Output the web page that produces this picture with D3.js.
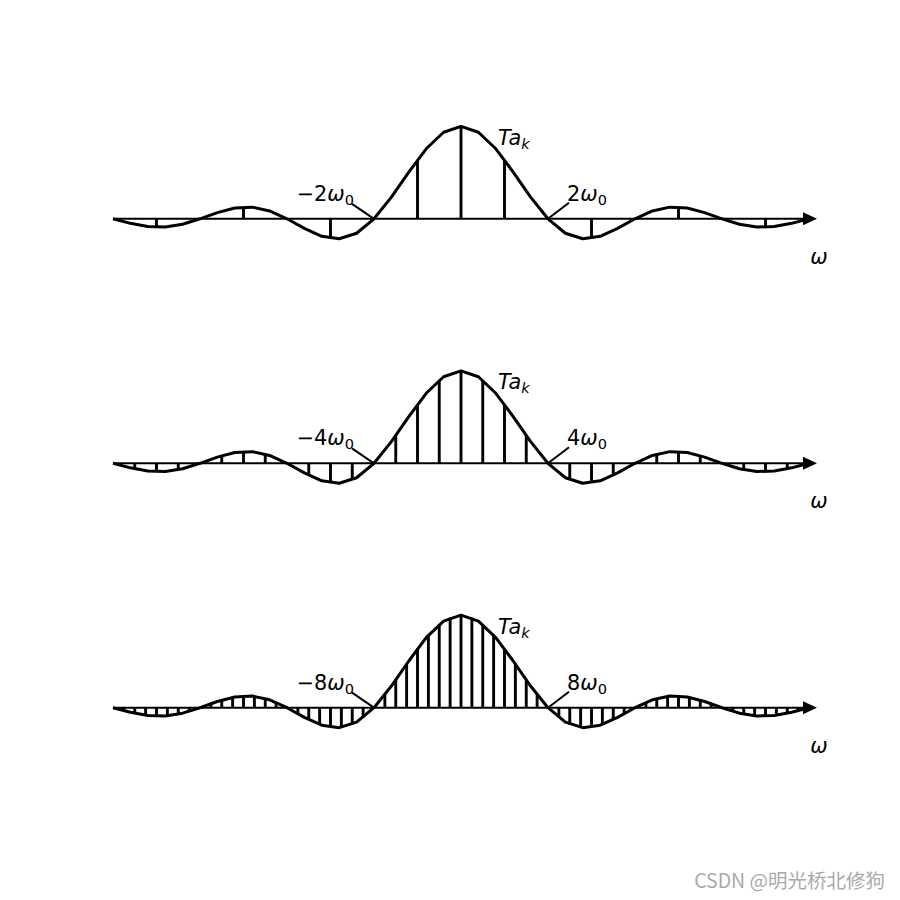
<!DOCTYPE html>
<html>
<head>
<meta charset="utf-8">
<script src="https://d3js.org/d3.v7.min.js"></script>
<style>
  body { margin: 0; background: #fff; }
  svg { display: block; }
</style>
</head>
<body>
<div id="chart"></div>
<script>
// envelope samples: position in units of the first zero crossing, and Ta_k value
var envU = [-4, -3.8, -3.6, -3.4, -3.2, -3, -2.8, -2.6, -2.4, -2.2, -2, -1.8, -1.6, -1.4, -1.2, -1,
            -0.8, -0.6, -0.4, -0.2, 0, 0.2, 0.4, 0.6, 0.8, 1, 1.2, 1.4, 1.6, 1.8, 2, 2.2, 2.4,
            2.6, 2.8, 3, 3.2, 3.4, 3.6, 3.8, 4];
var envV = [0, -0.049, -0.084, -0.089, -0.059, 0, 0.067, 0.116, 0.126, 0.085, 0, -0.104, -0.189,
            -0.216, -0.156, 0, 0.234, 0.505, 0.757, 0.936, 1, 0.936, 0.757, 0.505, 0.234, 0,
            -0.156, -0.216, -0.189, -0.104, 0, 0.085, 0.126, 0.116, 0.067, 0, -0.059, -0.089,
            -0.084, -0.049, 0];

// stem heights, harmonic k = -N..N
var stemsTop = [0, -0.091, 0, 0.127, 0, -0.212, 0, 0.637, 1, 0.637, 0, -0.212, 0, 0.127, 0, -0.091, 0];
var stemsMid = [0, -0.060, -0.091, -0.069, 0, 0.082, 0.127, 0.100, 0, -0.129, -0.212, -0.180, 0,
                0.300, 0.637, 0.900, 1, 0.900, 0.637, 0.300, 0, -0.180, -0.212, -0.129, 0, 0.100,
                0.127, 0.082, 0, -0.069, -0.091, -0.060, 0];
var stemsBot = [0, -0.031, -0.060, -0.081, -0.091, -0.087, -0.069, -0.039, 0, 0.042, 0.082, 0.112,
                0.127, 0.124, 0.100, 0.057, 0, -0.065, -0.129, -0.181, -0.212, -0.214, -0.180,
                -0.108, 0, 0.139, 0.300, 0.471, 0.637, 0.784, 0.900, 0.974, 1, 0.974, 0.900, 0.784,
                0.637, 0.471, 0.300, 0.139, 0, -0.108, -0.180, -0.214, -0.212, -0.181, -0.129,
                -0.065, 0, 0.057, 0.100, 0.124, 0.127, 0.112, 0.082, 0.042, 0, -0.039, -0.069,
                -0.087, -0.091, -0.081, -0.060, -0.031, 0];

// zero crossing label multiples of w0
var crossLabels = [2, 4, 8];

var width = 900, height = 900;
var font = "'DejaVu Sans', sans-serif";
var fs = 20.8;

var svg = d3.select("#chart")
    .append("svg")
    .attr("width", width)
    .attr("height", height);

var x = d3.scaleLinear()
    .domain([-4, 4])
    .range([113, 809]);

var panels = [
    { axisY: 218.8, stems: stemsTop, n: crossLabels[0] },
    { axisY: 463.3, stems: stemsMid, n: crossLabels[1] },
    { axisY: 707.7, stems: stemsBot, n: crossLabels[2] }
];

panels.forEach(function (p) {
    var y = d3.scaleLinear()
        .domain([0, 1])
        .range([p.axisY, p.axisY - 92.5]);

    var half = (p.stems.length - 1) / 2;
    var step = 1 / p.n;   // one w0 in units of the zero crossing
    var g = svg.append("g");

    // stems
    g.selectAll(".stem")
        .data(p.stems)
        .enter()
        .append("line")
        .attr("class", "stem")
        .attr("x1", function (d, i) { return x((i - half) * step); })
        .attr("x2", function (d, i) { return x((i - half) * step); })
        .attr("y1", y(0))
        .attr("y2", function (d) { return y(d); })
        .style("stroke", "black")
        .style("stroke-width", 2.9);

    // axis with arrow
    g.append("line")
        .attr("x1", x(-4))
        .attr("x2", x(4) - 4)
        .attr("y1", y(0))
        .attr("y2", y(0))
        .style("stroke", "black")
        .style("stroke-width", 2);

    g.append("path")
        .attr("d", "M" + (x(4) + 8) + "," + y(0) +
                   "L" + (x(4) - 6) + "," + (y(0) - 6.5) +
                   "L" + (x(4) - 6) + "," + (y(0) + 6.5) + "Z")
        .style("fill", "black");

    // envelope
    var line = d3.line()
        .x(function (d) { return x(d[0]); })
        .y(function (d) { return y(d[1]); });

    g.append("path")
        .datum(d3.zip(envU, envV))
        .attr("d", line)
        .style("fill", "none")
        .style("stroke", "black")
        .style("stroke-width", 3)
        .style("stroke-linejoin", "round");

    // annotation lines to zero crossings
    g.append("line")
        .attr("x1", x(-1) - 22).attr("y1", y(0) - 15)
        .attr("x2", x(-1)).attr("y2", y(0))
        .style("stroke", "black").style("stroke-width", 2);
    g.append("line")
        .attr("x1", x(1) + 21).attr("y1", y(0) - 16)
        .attr("x2", x(1)).attr("y2", y(0))
        .style("stroke", "black").style("stroke-width", 2);

    // labels
    var tl = g.append("text")
        .attr("x", x(-1) - 20)
        .attr("y", y(0) - 18)
        .attr("text-anchor", "end")
        .style("font-family", font)
        .style("font-size", fs + "px");
    tl.append("tspan").text("\u2212" + p.n);
    tl.append("tspan").style("font-style", "italic").text("\u03c9");
    tl.append("tspan").attr("dy", 4).style("font-size", (fs * 0.7) + "px").text("0");

    var tr = g.append("text")
        .attr("x", x(1) + 19)
        .attr("y", y(0) - 18)
        .style("font-family", font)
        .style("font-size", fs + "px");
    tr.append("tspan").text(p.n);
    tr.append("tspan").style("font-style", "italic").text("\u03c9");
    tr.append("tspan").attr("dy", 4).style("font-size", (fs * 0.7) + "px").text("0");

    var ta = g.append("text")
        .attr("x", x(0) + 37)
        .attr("y", y(0) - 74)
        .style("font-family", font)
        .style("font-size", fs + "px")
        .style("font-style", "italic");
    ta.append("tspan").text("Ta");
    ta.append("tspan").attr("dy", 4).style("font-size", (fs * 0.7) + "px").text("k");

    g.append("text")
        .attr("x", x(4) + 10)
        .attr("y", y(0) + 45)
        .attr("text-anchor", "middle")
        .style("font-family", font)
        .style("font-size", fs + "px")
        .style("font-style", "italic")
        .text("\u03c9");
});

// watermark
svg.append("text")
    .attr("x", 885)
    .attr("y", 888)
    .attr("text-anchor", "end")
    .style("font-family", "'Noto Sans CJK SC', sans-serif")
    .style("font-size", "19.5px")
    .style("fill", "#aaaaaa")
    .text("CSDN @明光桥北修狗");
</script>
</body>
</html>
